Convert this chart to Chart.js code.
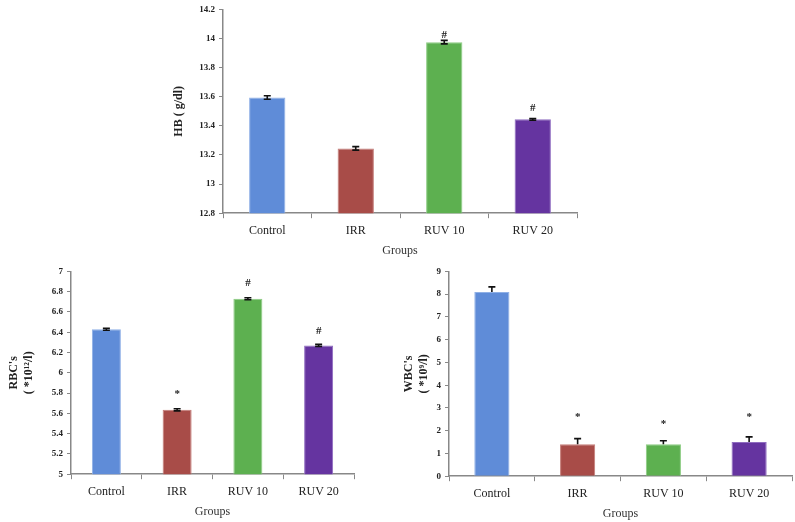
<!DOCTYPE html>
<html>
<head>
<meta charset="utf-8">
<script src="https://cdn.jsdelivr.net/npm/chart.js@4.4.0/dist/chart.umd.min.js"></script>
<style>
  html, body { margin: 0; padding: 0; background: #fff; }
  body { width: 795px; height: 522px; position: relative; overflow: hidden; }
  .box { position: absolute; }
</style>
</head>
<body>
<div class="box" style="left:170px; top:0px; width:415px; height:262px;"><canvas id="hbChart"></canvas></div>
<div class="box" style="left:5px; top:262px; width:357px; height:260px;"><canvas id="rbcChart"></canvas></div>
<div class="box" style="left:400px; top:262px; width:395px; height:260px;"><canvas id="wbcChart"></canvas></div>
<script>
// groups shared by all three panels
const groups = ['Control', 'IRR', 'RUV 10', 'RUV 20'];
const barColors = ['#5f8cd8', '#a84c48', '#5db050', '#6534a0'];
const barBorders = ['#8fb0e6', '#c47c78', '#8ccc82', '#8f6cc0'];

// HB (g/dl)
const hbValues = [13.595, 13.245, 13.975, 13.445];
const hbErrors = [0.012, 0.012, 0.012, 0.006];
const hbMarks = [null, null, 14.02, 13.52];
const hbMarkText = ['', '', '#', '#'];

// RBC's (*10^12/l)
const rbcValues = [6.43, 5.635, 6.73, 6.27];
const rbcErrors = [0.01, 0.01, 0.01, 0.01];
const rbcMarks = [null, 5.79, 6.88, 6.41];
const rbcMarkText = ['', '*', '#', '#'];

// WBC's (*10^9/l)
const wbcValues = [8.1, 1.4, 1.4, 1.5];
const wbcErrors = [0.22, 0.25, 0.16, 0.23];
const wbcMarks = [null, 2.6, 2.27, 2.6];
const wbcMarkText = ['', '*', '*', '*'];

const serif = "'Liberation Serif', 'Times New Roman', serif";

// error bars + significance marks, drawn through the scales
const extrasPlugin = {
    id: 'extras',
    afterDatasetsDraw(chart, args, opts) {
        const ctx = chart.ctx;
        const meta = chart.getDatasetMeta(0);
        const y = chart.scales.y;
        ctx.save();
        ctx.strokeStyle = '#111';
        ctx.lineWidth = 1.6;
        meta.data.forEach((bar, i) => {
            const v = opts.values[i];
            const e = opts.errors[i];
            const top = y.getPixelForValue(v + e);
            const bot = opts.upOnly ? y.getPixelForValue(v) : y.getPixelForValue(v - e);
            ctx.beginPath();
            ctx.moveTo(bar.x, top); ctx.lineTo(bar.x, bot);
            ctx.moveTo(bar.x - 3.5, top); ctx.lineTo(bar.x + 3.5, top);
            if (!opts.upOnly) { ctx.moveTo(bar.x - 3.5, bot); ctx.lineTo(bar.x + 3.5, bot); }
            ctx.stroke();
            if (opts.marks[i] !== null) {
                ctx.fillStyle = '#1a1a1a';
                ctx.font = 'bold 11px ' + serif;
                ctx.textAlign = 'center';
                ctx.textBaseline = 'middle';
                ctx.fillText(opts.markText[i], bar.x, y.getPixelForValue(opts.marks[i]));
            }
        });
        ctx.restore();
    }
};

function makeChart(id, values, errors, marks, markText, upOnly, yMin, yMax, step, yTitle, yWidth, pad) {
    return new Chart(document.getElementById(id), {
        type: 'bar',
        data: {
            labels: groups,
            datasets: [{
                data: values,
                backgroundColor: barColors,
                borderColor: barBorders,
                borderWidth: 1,
                barPercentage: 0.41,
                categoryPercentage: 1
            }]
        },
        plugins: [extrasPlugin],
        options: {
            responsive: true,
            maintainAspectRatio: false,
            animation: false,
            layout: { padding: pad },
            plugins: {
                legend: { display: false },
                tooltip: { enabled: false },
                extras: { values: values, errors: errors, marks: marks, markText: markText, upOnly: upOnly }
            },
            scales: {
                x: {
                    grid: { display: true, drawOnChartArea: false, drawTicks: true, tickLength: 5, offset: true, color: '#888' },
                    border: { color: '#888', width: 1.5 },
                    ticks: { color: '#222', font: { family: serif, size: 12 }, padding: 5 },
                    title: { display: true, text: 'Groups', color: '#333', font: { family: serif, size: 12 }, padding: { top: 1, bottom: 0 } }
                },
                y: {
                    min: yMin,
                    max: yMax,
                    afterFit: s => { s.width = yWidth; },
                    grid: { display: true, drawOnChartArea: false, drawTicks: true, tickLength: 4, color: '#888' },
                    border: { color: '#888', width: 1.5 },
                    ticks: {
                        stepSize: step,
                        color: '#222',
                        padding: 4,
                        font: { family: serif, size: 9, weight: 'bold' },
                        callback: v => String(+v.toFixed(1))
                    },
                    title: { display: true, text: yTitle, color: '#222', font: { family: serif, size: 12, weight: 'bold' }, padding: 2 }
                }
            }
        }
    });
}

makeChart('hbChart', hbValues, hbErrors, hbMarks, hbMarkText, false, 12.8, 14.2, 0.2, 'HB ( g/dl)', 53,
    { top: 0, right: 8, left: 0, bottom: 4 });
makeChart('rbcChart', rbcValues, rbcErrors, rbcMarks, rbcMarkText, false, 5, 7, 0.2, ["RBC's", '( *10\u00b9\u00b2/l)'], 66,
    { top: 4, right: 8, left: 0, bottom: 3 });
makeChart('wbcChart', wbcValues, wbcErrors, wbcMarks, wbcMarkText, true, 0, 9, 1, ["WBC's", '( *10\u2079/l)'], 49,
    { top: 2, right: 3, left: 0, bottom: 1 });
</script>
</body>
</html>
